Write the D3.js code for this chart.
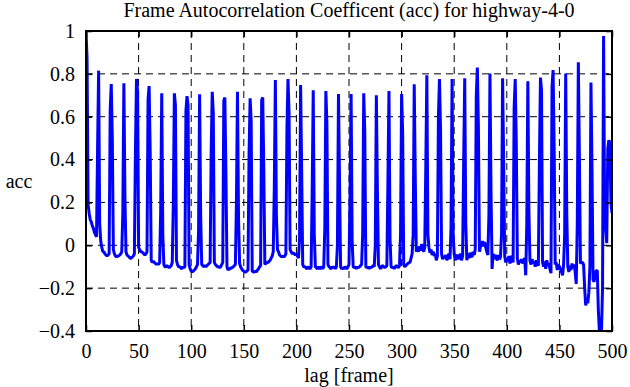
<!DOCTYPE html>
<html>
<head>
<meta charset="utf-8">
<script src="https://cdn.jsdelivr.net/npm/d3@7"></script>
<style>
  body { margin: 0; background: #fff; }
  svg text { font-family: "Liberation Serif", "Times New Roman", serif; fill: #000; }
  .grid line { stroke: #000; stroke-width: 1; stroke-dasharray: 7,5; }
  .axis path { display: none; }
  .axis line { stroke: #000; stroke-width: 1.5; }
</style>
</head>
<body>
<div id="output"></div>
<script>
const xTicks = [0, 50, 100, 150, 200, 250, 300, 350, 400, 450, 500];
const yTicks = [-0.4, -0.2, 0, 0.2, 0.4, 0.6, 0.8, 1];

// autocorrelation per lag, 12 lags per row (each row starts on a peak)
const acc = [
  1.0, 0.87, 0.19, 0.15, 0.12, 0.11, 0.09, 0.08, 0.06, 0.05, 0.04, 0.45,
  0.815, 0.10, 0.02, -0.01, -0.03, -0.03, -0.04, -0.045, -0.05, -0.045, -0.04, 0.63,
  0.752, 0.50, -0.02, -0.04, -0.05, -0.055, -0.05, -0.05, -0.045, -0.04, -0.03, 0.15,
  0.756, 0.23, -0.03, -0.045, -0.05, -0.055, -0.06, -0.06, -0.055, -0.05, -0.04, 0.44,
  0.776, 0.72, -0.01, -0.02, -0.03, -0.03, -0.035, -0.04, -0.045, -0.04, -0.03, 0.68,
  0.743, 0.44, -0.07, -0.08, -0.075, -0.08, -0.085, -0.09, -0.085, -0.09, -0.08, 0.16,
  0.709, 0.05, -0.09, -0.1, -0.1, -0.095, -0.1, -0.105, -0.1, -0.095, -0.08, 0.20,
  0.709, 0.655, -0.07, -0.09, -0.1, -0.1, -0.105, -0.11, -0.1, -0.105, -0.1, 0.626,
  0.696, 0.654, -0.09, -0.11, -0.12, -0.125, -0.12, -0.115, -0.11, -0.1, -0.09, 0.07,
  0.705, 0.14, -0.09, -0.095, -0.1, -0.095, -0.1, -0.095, -0.09, -0.085, -0.08, 0.44,
  0.716, 0.615, -0.08, -0.09, -0.095, -0.1, -0.1, -0.105, -0.1, -0.09, -0.08, 0.675,
  0.69, 0.34, -0.1, -0.115, -0.11, -0.11, -0.105, -0.105, -0.1, -0.095, -0.09, 0.20,
  0.716, 0.125, -0.085, -0.1, -0.11, -0.117, -0.12, -0.125, -0.125, -0.12, -0.115, 0.425,
  0.686, 0.584, -0.12, -0.125, -0.125, -0.12, -0.125, -0.115, -0.11, -0.1, -0.095, 0.678,
  0.69, 0.358, -0.09, -0.085, -0.08, -0.08, -0.075, -0.07, -0.06, -0.05, -0.03, 0.27,
  0.771, 0.14, -0.02, -0.03, -0.045, -0.05, -0.055, -0.05, -0.055, -0.05, -0.04, 0.537,
  0.776, 0.623, -0.02, -0.03, -0.04, -0.035, -0.04, -0.045, -0.04, -0.05, -0.06, 0.03,
  0.748, 0.35, -0.09, -0.1, -0.1, -0.105, -0.11, -0.1, -0.105, -0.11, -0.1, 0.25,
  0.724, 0.05, -0.1, -0.105, -0.11, -0.1, -0.11, -0.105, -0.1, -0.11, -0.1, 0.08,
  0.72, 0.569, -0.09, -0.1, -0.105, -0.11, -0.1, -0.105, -0.1, -0.11, -0.1, 0.0,
  0.706, 0.30, -0.1, -0.11, -0.105, -0.11, -0.1, -0.105, -0.11, -0.1, -0.09, 0.24,
  0.706, 0.015, -0.1, -0.105, -0.1, -0.11, -0.1, -0.105, -0.1, -0.095, -0.09, 0.05,
  0.709, 0.53, -0.1, -0.105, -0.1, -0.11, -0.1, -0.105, -0.1, -0.095, -0.1, 0.0,
  0.70, 0.257, -0.09, -0.1, -0.11, -0.1, -0.095, -0.1, -0.105, -0.1, -0.095, 0.30,
  0.72, 0.03, -0.1, -0.105, -0.1, -0.11, -0.1, -0.095, -0.1, -0.105, -0.095, 0.05,
  0.706, 0.53, -0.09, -0.1, -0.095, -0.09, -0.085, -0.08, -0.08, -0.06, -0.04, 0.05,
  0.752, 0.31, -0.03, -0.015, -0.03, -0.005, -0.025, 0.005, -0.015, -0.03, -0.01, 0.366,
  0.794, 0.05, -0.01, -0.035, -0.02, -0.045, -0.03, -0.05, -0.04, -0.07, -0.05, 0.60,
  0.776, 0.545, -0.04, -0.065, -0.05, -0.06, -0.045, -0.07, -0.05, -0.04, -0.065, 0.085,
  0.776, 0.05, -0.04, -0.07, -0.05, -0.045, -0.065, -0.05, -0.04, -0.07, -0.05, 0.39,
  0.779, 0.10, -0.07, -0.045, -0.06, -0.035, -0.05, -0.055, -0.03, -0.045, -0.02, 0.696,
  0.829, 0.553, -0.03, -0.005, 0.0, 0.02, -0.005, 0.015, -0.01, -0.03, -0.045, 0.14,
  0.802, 0.25, -0.11, -0.04, -0.065, -0.045, -0.06, -0.07, -0.045, -0.065, -0.055, 0.05,
  0.779, 0.40, -0.05, -0.08, -0.06, -0.075, -0.05, -0.085, -0.06, -0.05, -0.08, 0.646,
  0.776, 0.483, -0.06, -0.09, -0.07, -0.08, -0.065, -0.085, -0.07, -0.06, -0.14, 0.10,
  0.766, 0.163, -0.07, -0.09, -0.065, -0.085, -0.075, -0.1, -0.07, -0.085, -0.095, 0.39,
  0.783, 0.724, -0.08, -0.1, -0.075, -0.11, -0.07, -0.095, -0.085, -0.11, -0.13, 0.74,
  0.818, 0.467, -0.09, -0.08, -0.115, -0.09, -0.1, -0.11, -0.125, -0.14, -0.09, 0.05,
  0.802, 0.15, -0.1, -0.125, -0.095, -0.115, -0.085, -0.105, -0.09, -0.125, -0.18, 0.10,
  0.854, 0.413, -0.085, -0.08, -0.08, -0.09, -0.2, -0.28, -0.26, -0.27, -0.22, -0.1,
  0.76, 0.35, -0.16, -0.17, -0.13, -0.12, -0.117, -0.3, -0.40, -0.38, -0.40, -0.2,
  0.977, 0.12, 0.08, 0.01, 0.45, 0.49, 0.48, 0.2, 0.15
];

const width = 630, height = 387;
const margin = { top: 31, right: 18, bottom: 56, left: 86 };
const innerW = width - margin.left - margin.right;
const innerH = height - margin.top - margin.bottom;
const serifFont = '"Liberation Serif", "Times New Roman", serif';

const svg = d3.select('#output')
  .append('svg')
  .attr('width', width)
  .attr('height', height);

const g = svg.append('g')
  .attr('transform', `translate(${margin.left},${margin.top})`);

const x = d3.scaleLinear().domain([0, 500]).range([0, innerW]);
const y = d3.scaleLinear().domain([-0.4, 1]).range([innerH, 0]);

// dashed grid (not on the border)
const grid = g.append('g').attr('class', 'grid');
grid.selectAll('.gx')
  .data(xTicks.slice(1, -1))
  .join('line')
  .attr('x1', d => x(d)).attr('x2', d => x(d))
  .attr('y1', 0).attr('y2', innerH);
grid.selectAll('.gy')
  .data(yTicks.slice(1, -1))
  .join('line')
  .attr('x1', 0).attr('x2', innerW)
  .attr('y1', d => y(d)).attr('y2', d => y(d));

// data line
g.append('clipPath').attr('id', 'clip')
  .append('rect').attr('width', innerW).attr('height', innerH);

g.append('path')
  .datum(acc)
  .attr('clip-path', 'url(#clip)')
  .attr('fill', 'none')
  .attr('stroke', '#0000ff')
  .attr('stroke-width', 3)
  .attr('stroke-linejoin', 'bevel')
  .attr('d', d3.line().x((d, i) => x(i)).y(d => y(d)));

// axes, ticks pointing inward, mirrored
const fmt = d => d3.format('')(d);
const serifLabels = a => a.selectAll('text')
  .style('font-family', serifFont)
  .style('font-size', '20px');
g.append('g').attr('class', 'axis')
  .attr('transform', `translate(0,${innerH})`)
  .call(d3.axisBottom(x).tickValues(xTicks).tickSize(-6).tickPadding(13).tickFormat(fmt))
  .call(serifLabels);
g.append('g').attr('class', 'axis')
  .call(d3.axisTop(x).tickValues(xTicks).tickSize(-6).tickFormat(''));
g.append('g').attr('class', 'axis')
  .call(d3.axisLeft(y).tickValues(yTicks).tickSize(-6).tickPadding(11).tickFormat(fmt))
  .call(serifLabels);
g.append('g').attr('class', 'axis')
  .attr('transform', `translate(${innerW},0)`)
  .call(d3.axisRight(y).tickValues(yTicks).tickSize(-6).tickFormat(''));

g.append('rect')
  .attr('width', innerW).attr('height', innerH)
  .attr('fill', 'none').attr('stroke', '#000').attr('stroke-width', 2);

// titles
svg.append('text')
  .attr('x', margin.left + innerW / 2).attr('y', 17)
  .attr('text-anchor', 'middle').attr('font-size', 20)
  .text('Frame Autocorrelation Coefficent (acc) for highway-4-0');

svg.append('text')
  .attr('x', margin.left + innerW / 2).attr('y', 382)
  .attr('text-anchor', 'middle').attr('font-size', 20)
  .text('lag [frame]');

svg.append('text')
  .attr('x', 19).attr('y', 188)
  .attr('text-anchor', 'middle').attr('font-size', 20)
  .text('acc');
</script>
</body>
</html>
